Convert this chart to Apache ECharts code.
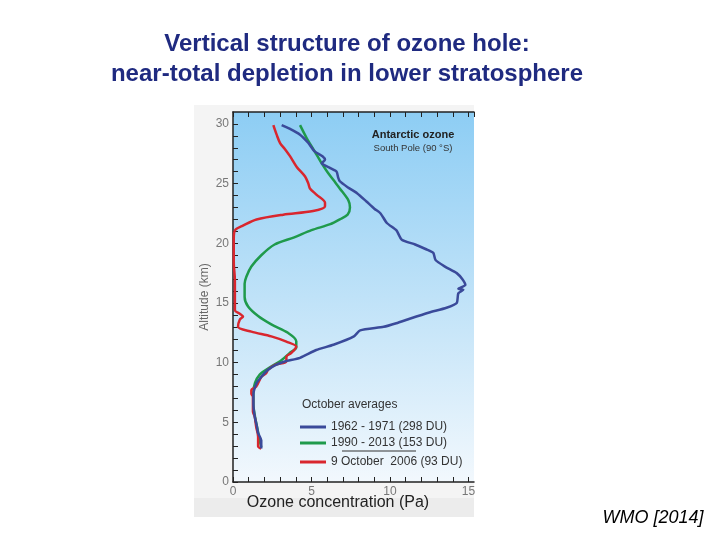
<!DOCTYPE html>
<html>
<head>
<meta charset="utf-8">
<script src="https://cdn.jsdelivr.net/npm/echarts@6/dist/echarts.min.js"></script>
<style>
html,body{margin:0;padding:0;background:#fff;}
#chart{width:720px;height:540px;}
</style>
</head>
<body>
<div id="chart"></div>
<script>
// ---- Data (ozone concentration in Pa, altitude in km) ----
const titleLines = ["Vertical structure of ozone hole:", "near-total depletion in lower stratosphere"];
const seriesNames = ["1962 - 1971 (298 DU)", "1990 - 2013 (153 DU)", "9 October  2006 (93 DU)"];
const xTickLabels = [0, 5, 10, 15];
const yTickLabels = [0, 5, 10, 15, 20, 25, 30];

const blue1962 = [[3.1,29.9],[3.6,29.6],[4.27,29.1],[4.8,28.4],[5.2,27.7],[5.7,27.3],[5.86,27.0],[5.65,26.7],[6.2,26.3],[6.6,26.0],[6.7,25.5],[6.8,25.2],[7.3,24.7],[7.9,24.2],[8.5,23.5],[9.0,22.9],[9.4,22.5],[9.8,21.7],[10.4,21.1],[10.75,20.3],[11.6,19.9],[12.3,19.5],[12.76,19.2],[12.9,18.6],[13.5,18.05],[14.25,17.5],[14.6,17.0],[14.8,16.5],[14.35,16.2],[14.67,16.1],[14.35,15.8],[14.25,15.0],[13.6,14.6],[12.5,14.2],[11.3,13.7],[10.4,13.3],[9.6,13.0],[8.1,12.7],[7.7,12.2],[6.4,11.5],[5.3,11.06],[4.27,10.4],[3.3,10.1],[2.7,9.8],[2.23,9.4],[1.8,8.8],[1.5,8.27],[1.3,7.3],[1.3,6.5],[1.38,5.5],[1.5,4.8],[1.6,4.1],[1.8,3.5],[1.8,2.8]];

const green1990 = [[4.27,29.9],[4.7,28.8],[5.2,27.7],[5.6,26.8],[6.0,26.0],[6.4,25.3],[6.8,24.6],[7.35,23.6],[7.45,23.0],[7.3,22.4],[6.8,22.0],[6.2,21.6],[5.0,21.1],[3.9,20.5],[2.65,19.9],[1.8,19.0],[1.17,18.05],[0.85,17.2],[0.74,16.6],[0.74,15.5],[0.96,14.7],[1.6,13.9],[2.44,13.2],[3.5,12.5],[4.03,11.8],[4.03,11.3],[3.6,10.8],[3.08,10.2],[2.23,9.5],[1.7,9.0],[1.4,8.3],[1.3,7.5],[1.3,6.5],[1.4,5.5],[1.55,4.5],[1.7,3.5],[1.8,2.9]];

const red2006 = [[2.57,29.9],[2.78,29.1],[3.0,28.4],[3.3,27.9],[3.63,27.3],[4.06,26.4],[4.59,25.6],[4.8,25.0],[4.9,24.6],[5.33,24.06],[5.86,23.4],[5.86,23.1],[5.1,22.7],[3.2,22.4],[1.5,22.0],[0.66,21.5],[0.13,21.1],[0.05,20.4],[0.05,18.4],[0.12,16.9],[0.12,14.4],[0.43,14.1],[0.64,13.86],[0.43,13.6],[0.32,13.0],[1.17,12.6],[2.44,12.2],[3.4,11.76],[4.03,11.34],[3.7,10.8],[3.4,10.5],[3.4,10.1],[2.65,9.8],[2.23,9.4],[2.1,9.1],[1.8,8.8],[1.48,8.0],[1.17,7.7],[1.17,7.4],[1.27,7.15],[1.27,5.9],[1.38,5.5],[1.48,4.6],[1.6,3.8],[1.6,3.0],[1.8,2.8]];

const colors = ["#3a4a9a", "#1f9a4b", "#d9262e"];

const chart = echarts.init(document.getElementById('chart'), null, {renderer: 'canvas'});

const axisLineStyle = {color: '#222', width: 1.5};
const labelFmt = (list) => (v) => (list.indexOf(v) >= 0 ? String(v) : '');

const option = {
  animation: false,
  backgroundColor: '#ffffff',
  textStyle: {fontFamily: 'Liberation Sans, Arial, sans-serif'},
  grid: {left: 233, top: 112, width: 241, height: 370, containLabel: false},
  xAxis: [
    {
      type: 'value', min: 0, max: 15.35, interval: 1, position: 'bottom',
      axisLine: {show: true, lineStyle: axisLineStyle},
      axisTick: {show: true, inside: true, length: 5, lineStyle: {color: '#222', width: 1}},
      axisLabel: {show: true, formatter: labelFmt(xTickLabels), color: '#777', fontSize: 12, margin: 4, showMaxLabel: false},
      splitLine: {show: false}
    },
    {
      type: 'value', min: 0, max: 15.35, interval: 1, position: 'top',
      axisLine: {show: true, onZero: false, lineStyle: axisLineStyle},
      axisTick: {show: true, inside: true, length: 5, lineStyle: {color: '#222', width: 1}},
      axisLabel: {show: false},
      splitLine: {show: false}
    }
  ],
  yAxis: [{
    type: 'value', min: 0, max: 31, interval: 1,
    name: 'Altitude (km)', nameLocation: 'middle', nameGap: 22,
    nameTextStyle: {color: '#666', fontSize: 12},
    axisLine: {show: true, lineStyle: axisLineStyle},
    axisTick: {show: true, inside: true, length: 5, lineStyle: {color: '#222', width: 1}},
    axisLabel: {show: true, formatter: labelFmt(yTickLabels), color: '#777', fontSize: 12, margin: 4, showMaxLabel: false},
    splitLine: {show: false}
  }],
  legend: [
    {
      left: 300, top: 421, orient: 'vertical', itemGap: 4,
      itemWidth: 26, itemHeight: 3, icon: 'rect',
      data: [seriesNames[0], seriesNames[1]],
      textStyle: {color: '#333', fontSize: 12},
      padding: 0
    },
    {
      left: 300, top: 456, orient: 'vertical',
      itemWidth: 26, itemHeight: 3, icon: 'rect',
      data: [seriesNames[2]],
      textStyle: {color: '#333', fontSize: 12},
      padding: 0
    }
  ],
  graphic: [
    {type: 'rect', z: -20, shape: {x: 194, y: 105, width: 280, height: 412}, style: {fill: '#f4f4f4'}},
    {type: 'rect', z: -19, shape: {x: 194, y: 498, width: 280, height: 19}, style: {fill: '#ececec'}},
    {type: 'rect', z: -18, shape: {x: 233, y: 112, width: 241, height: 370},
      style: {fill: new echarts.graphic.LinearGradient(0, 0, 0, 1, [
        {offset: 0, color: '#8dcdf4'}, {offset: 0.5, color: '#bfe2f8'}, {offset: 1, color: '#f2f8fd'}
      ])}},
    {type: 'text', x: 347, y: 44, style: {text: titleLines[0], font: 'bold 24px "Liberation Sans", Arial, sans-serif', fill: '#1f2a80', align: 'center', verticalAlign: 'middle'}},
    {type: 'text', x: 347, y: 74, style: {text: titleLines[1], font: 'bold 24px "Liberation Sans", Arial, sans-serif', fill: '#1f2a80', align: 'center', verticalAlign: 'middle'}},
    {type: 'text', x: 413, y: 135, style: {text: 'Antarctic ozone', font: 'bold 11px "Liberation Sans", Arial, sans-serif', fill: '#222', align: 'center', verticalAlign: 'middle'}},
    {type: 'text', x: 413, y: 148, style: {text: 'South Pole (90 °S)', font: '9.5px "Liberation Sans", Arial, sans-serif', fill: '#333', align: 'center', verticalAlign: 'middle'}},
    {type: 'text', x: 302, y: 405, style: {text: 'October averages', font: '12px "Liberation Sans", Arial, sans-serif', fill: '#333', verticalAlign: 'middle'}},
    {type: 'line', shape: {x1: 342, y1: 451, x2: 416, y2: 451}, style: {stroke: '#333', lineWidth: 1}},
    {type: 'text', x: 338, y: 503, style: {text: 'Ozone concentration (Pa)', font: '16px "Liberation Sans", Arial, sans-serif', fill: '#222', align: 'center', verticalAlign: 'middle'}},
    {type: 'text', x: 653, y: 518, style: {text: 'WMO [2014]', font: 'italic 18px "Liberation Sans", Arial, sans-serif', fill: '#000', align: 'center', verticalAlign: 'middle'}}
  ],
  series: [
    {name: seriesNames[1], type: 'line', data: green1990, showSymbol: false, smooth: 0.3, lineStyle: {color: colors[1], width: 2.5}, itemStyle: {color: colors[1]}, z: 3},
    {name: seriesNames[2], type: 'line', data: red2006, showSymbol: false, smooth: 0.3, lineStyle: {color: colors[2], width: 2.5}, itemStyle: {color: colors[2]}, z: 4},
    {name: seriesNames[0], type: 'line', data: blue1962, showSymbol: false, smooth: 0.2, lineStyle: {color: colors[0], width: 2.5}, itemStyle: {color: colors[0]}, z: 5}
  ]
};
chart.setOption(option);
</script>
</body>
</html>
